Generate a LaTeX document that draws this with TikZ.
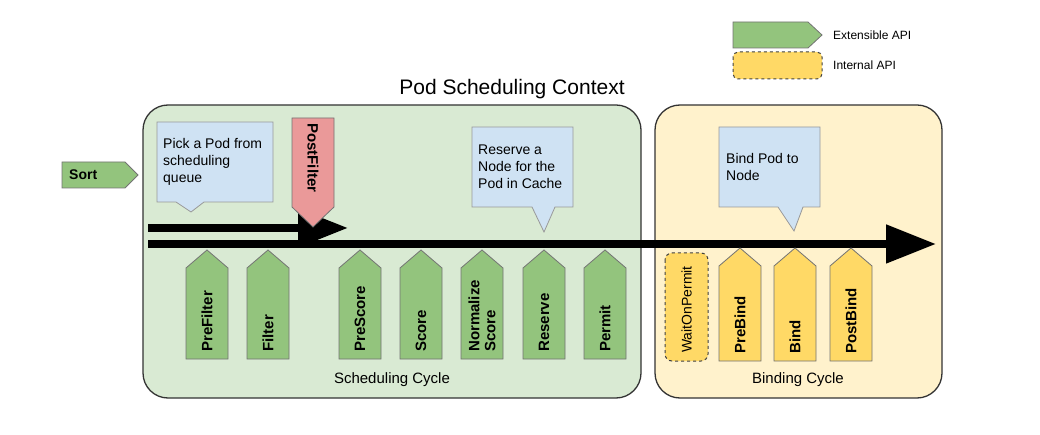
\documentclass[tikz,border=0pt]{standalone}
\usepackage{fontspec}
\setmainfont{Liberation Sans}
\usetikzlibrary{arrows.meta}
\definecolor{ctxgreen}{HTML}{D9EAD3}
\definecolor{ctxyellow}{HTML}{FFF2CC}
\definecolor{extgreen}{HTML}{93C47D}
\definecolor{intyellow}{HTML}{FFD966}
\definecolor{calloutblue}{HTML}{CFE2F3}
\definecolor{pfred}{HTML}{EA9999}
\newcommand\upstep[6]{%
  \draw[#5] (#1-21,#3) -- (#1-21,#2+18) -- (#1,#2) -- (#1+21,#2+18) -- (#1+21,#3) -- cycle;
  \node[steplabel,anchor=west] (#4) at (#1,#3-7) {#6};
}
\begin{document}
\begin{tikzpicture}[x=1pt,y=-1pt,
  ctxbox/.style={draw=black!80,line width=1.3pt,rounded corners=25pt},
  extshape/.style={draw=black!55,line width=0.8pt,fill=extgreen},
  intshape/.style={draw=black!55,line width=0.8pt,fill=intyellow},
  callout/.style={draw=black!40,line width=0.8pt,fill=calloutblue},
  callouttext/.style={inner sep=0pt,anchor=west,align=left,font=\fontsize{14}{17}\selectfont},
  steplabel/.style={inner sep=0pt,rotate=90,align=left,font=\fontsize{15}{16}\selectfont\bfseries},
  flow/.style={line width=8pt,-{Triangle[length=50pt,width=37pt]}},
  legendtext/.style={anchor=west,inner sep=0pt,font=\fontsize{12}{14}\selectfont},
  cycletext/.style={inner sep=0pt,font=\fontsize{15}{18}\selectfont}
]
\useasboundingbox (0,0) rectangle (1040,435);
% legend
\draw[extshape] (733,22) -- (808,22) -- (822,35) -- (808,48) -- (733,48) -- cycle;
\node[legendtext] (legext) at (833,35) {Extensible API};
\draw[intshape,dashed,rounded corners=5pt,line width=1pt,draw=black!75] (733,52) rectangle (822,79);
\node[legendtext] (legint) at (833,65) {Internal API};
% title
\node[inner sep=0pt,font=\fontsize{21}{24}\selectfont] (title) at (512,89) {Pod Scheduling Context};
% context boxes
\draw[ctxbox,fill=ctxgreen] (143,105) rectangle (641,398);
\draw[ctxbox,fill=ctxyellow] (655,105) rectangle (942,398);
\node[cycletext] (sched) at (392,380) {Scheduling Cycle};
\node[cycletext] (bindc) at (798,380) {Binding Cycle};
% sort
\draw[extshape] (62,162) -- (125,162) -- (138,175) -- (125,188) -- (62,188) -- cycle;
\node[inner sep=0pt,anchor=west,font=\fontsize{14}{16}\selectfont\bfseries] (sort) at (69,175) {Sort};
% callouts
\draw[callout] (157,122) -- (273,122) -- (273,202) -- (204,202) -- (191,212) -- (176,202) -- (157,202) -- cycle;
\node[callouttext] (pick) at (163,162) {Pick a Pod from\\scheduling\\queue};
\draw[callout] (472,127) -- (573,127) -- (573,207) -- (555,207) -- (544,232) -- (532,207) -- (472,207) -- cycle;
\node[callouttext] (reservenote) at (478,167) {Reserve a\\Node for the\\Pod in Cache};
\draw[callout] (719,127) -- (820,127) -- (820,207) -- (803,207) -- (794,231) -- (778,207) -- (719,207) -- cycle;
\node[callouttext] (bindnote) at (726,167) {Bind Pod to\\Node};
% flow arrows
\coordinate (upstart) at (148,228);
\coordinate (upend) at (348,228);
\coordinate (lowstart) at (148,244);
\coordinate (lowend) at (936,244);
\draw[flow] (upstart) -- (upend);
\draw[flow] (lowstart) -- (lowend);
% postfilter
\draw[draw=black!55,line width=0.8pt,fill=pfred] (292,118) -- (334,118) -- (334,207) -- (313,227) -- (292,207) -- cycle;
\node[inner sep=0pt,rotate=-90,anchor=west,font=\fontsize{15}{16}\selectfont\bfseries] (postfilter) at (313,123) {PostFilter};
% extension points
\upstep{207}{250}{359}{prefilter}{extshape}{PreFilter}
\upstep{268}{250}{359}{filter}{extshape}{Filter}
\upstep{360}{250}{359}{prescore}{extshape}{PreScore}
\upstep{421}{250}{359}{score}{extshape}{Score}
\upstep{482}{250}{359}{normalize}{extshape}{Normalize\\Score}
\upstep{544}{250}{359}{reserve}{extshape}{Reserve}
\upstep{605}{250}{359}{permit}{extshape}{Permit}
% binding
\draw[intshape,dashed,rounded corners=7pt,line width=1pt,draw=black!75] (665,253) rectangle (708,361);
\node[inner sep=0pt,rotate=90,anchor=west,font=\fontsize{14}{16}\selectfont] (waitonpermit) at (686.5,353) {WaitOnPermit};
\upstep{740}{248}{361}{prebind}{intshape}{PreBind}
\upstep{795}{248}{361}{bind}{intshape}{Bind}
\upstep{851}{248}{361}{postbind}{intshape}{PostBind}
\end{tikzpicture}
\end{document}
